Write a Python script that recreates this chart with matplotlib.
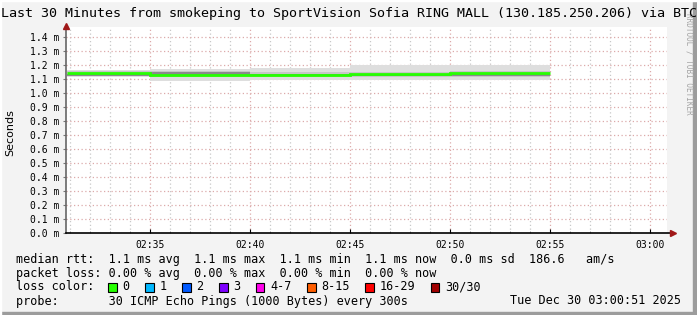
import numpy as np
import matplotlib.pyplot as plt
from matplotlib.patches import Rectangle
from matplotlib.lines import Line2D

W, H = 697, 315
def fx(px): return px / W
def fy(py): return 1 - py / H

# time in minutes after 02:30, one step every 5 minutes (300 s)
step_edges = [0.85, 5, 10, 15, 20, 25]
median_ms = [1.144, 1.132, 1.130, 1.134, 1.146]
ping_min = [1.117, 1.088, 1.093, 1.093, 1.093]
ping_max = [1.164, 1.169, 1.176, 1.200, 1.200]
mid_lo = [1.119, 1.116, 1.116, 1.116, 1.116]
mid_hi = [1.158, 1.158, 1.152, 1.150, 1.160]
dark_lo = [1.122, 1.125, 1.123, 1.123, 1.120]
dark_hi = [1.138, 1.151, 1.133, 1.133, 1.139]

y_ticks = [i / 10 for i in range(15)]
x_ticks = [5, 10, 15, 20, 25, 30]
x_labels = ['02:35', '02:40', '02:45', '02:50', '02:55', '03:00']

loss_labels = ['0', '1', '2', '3', '4-7', '8-15', '16-29', '30/30']
loss_colors = ['#26ff00', '#00b8ff', '#0059ff', '#7e00ff', '#ff00ea', '#ff5e00', '#ff0000', '#a00000']

title = 'Last 30 Minutes from smokeping to SportVision Sofia RING MALL (130.185.250.206) via BTC'
line_rtt = 'median rtt:  1.1 ms avg  1.1 ms max  1.1 ms min  1.1 ms now  0.0 ms sd  186.6   am/s'
line_loss = 'packet loss: 0.00 % avg  0.00 % max  0.00 % min  0.00 % now'
line_probe = 'probe:       30 ICMP Echo Pings (1000 Bytes) every 300s'
stamp = 'Tue Dec 30 03:00:51 2025'

mono = 'DejaVu Sans Mono'

fig = plt.figure(figsize=(W / 100, H / 100), dpi=100, facecolor='#f3f3f3')

# 3d frame
fig.patches.append(Rectangle((fx(W - 4), 0), fx(4), 1, transform=fig.transFigure,
                             color='#9c9c9c', zorder=0))
fig.patches.append(Rectangle((0, 0), 1, 3 / H, transform=fig.transFigure,
                             color='#9c9c9c', zorder=0))
fig.patches.append(Rectangle((0, 0), fx(1), 1, transform=fig.transFigure,
                             color='#ffffff', zorder=0))
fig.patches.append(Rectangle((0, fy(1)), 1, 1 / H, transform=fig.transFigure,
                             color='#ffffff', zorder=0))

left, right, top, bottom = 66, 667, 27, 233
ax = fig.add_axes([fx(left), fy(bottom), fx(right - left), (bottom - top) / H])
ax.set_facecolor('white')
ax.set_xlim(0.8, 30.85)
ax.set_ylim(0, (bottom - top) / 140)

# grid
for m in range(1, 31):
    c = '#dcaaaa' if m % 5 == 0 else '#c8c8c8'
    ax.axvline(m, color=c, lw=0.9, ls=(0, (1, 2)), zorder=1)
for v in y_ticks[1:]:
    ax.axhline(v, color='#dcaaaa', lw=0.9, ls=(0, (1, 2)), zorder=1)

# smoke
ax.stairs(ping_max, step_edges, baseline=ping_min, fill=True, color='#dedede', zorder=2)
ax.stairs(mid_hi, step_edges, baseline=mid_lo, fill=True, color='#c6c6c6', zorder=3)
ax.stairs(dark_hi, step_edges, baseline=dark_lo, fill=True, color='#8a8a8a', zorder=4)
ax.stairs(median_ms, step_edges, baseline=None, color='#26ff00', lw=2.0, zorder=5)

for s in ax.spines.values():
    s.set_visible(False)
ax.add_line(Line2D([0, 0], [0, 1], transform=ax.transAxes, color='#666666', lw=1.2,
                   clip_on=False, zorder=6))
ax.add_line(Line2D([0, 1.008], [0, 0], transform=ax.transAxes, color='black', lw=1.2,
                   clip_on=False, zorder=6))
ax.plot([0], [1.005], marker='^', ms=4.5, color='#a01818', transform=ax.transAxes,
        clip_on=False, zorder=7)
ax.plot([1.01], [0], marker='>', ms=4.5, color='#a01818', transform=ax.transAxes,
        clip_on=False, zorder=7)

ax.set_yticks(y_ticks)
ax.set_yticklabels([f'{v:.1f} m' for v in y_ticks], family=mono, fontsize=7)
ax.set_xticks(x_ticks)
ax.set_xticklabels(x_labels, family=mono, fontsize=7)
ax.set_xticks(range(1, 31), minor=True)
ax.tick_params(axis='y', length=2, width=0.8, color='#777777', pad=3)
ax.tick_params(axis='x', which='major', direction='in', length=3, width=0.8, pad=5)
ax.tick_params(axis='x', which='minor', direction='in', length=1.5, width=0.6, color='#888888')

fig.text(fx(10), fy(133), 'Seconds', rotation=90, ha='center', va='center',
         family='DejaVu Sans', fontsize=8)
fig.text(fx(689), fy(13), 'RRDTOOL / TOBI OETIKER', rotation=270, ha='center', va='top',
         family=mono, fontsize=5.5, color='#a4a4a4', zorder=0)
fig.text(fx(1), fy(13), title, ha='left', va='center', family=mono, fontsize=9.6)

# legend
cw = 7.1
fig.text(fx(16), fy(259), line_rtt, ha='left', va='center', family=mono, fontsize=8.5)
fig.text(fx(16), fy(273), line_loss, ha='left', va='center', family=mono, fontsize=8.5)
fig.text(fx(16), fy(287), 'loss color:', ha='left', va='center', family=mono, fontsize=8.5)
col = 13
for lab, c in zip(loss_labels, loss_colors):
    bx = 16 + cw * col
    fig.patches.append(Rectangle((fx(bx), fy(291.5)), fx(8.5), 9 / H, transform=fig.transFigure,
                                 facecolor=c, edgecolor='black', lw=0.8, zorder=3))
    fig.text(fx(16 + cw * (col + 2)), fy(287), lab, ha='left', va='center', family=mono, fontsize=8.5)
    col += 2 + len(lab) + 2.2
fig.text(fx(16), fy(301), line_probe, ha='left', va='center', family=mono, fontsize=8.5)
fig.text(fx(681), fy(301), stamp, ha='right', va='center', family=mono, fontsize=8.5)

fig.savefig('out.png', dpi=100, facecolor=fig.get_facecolor())
